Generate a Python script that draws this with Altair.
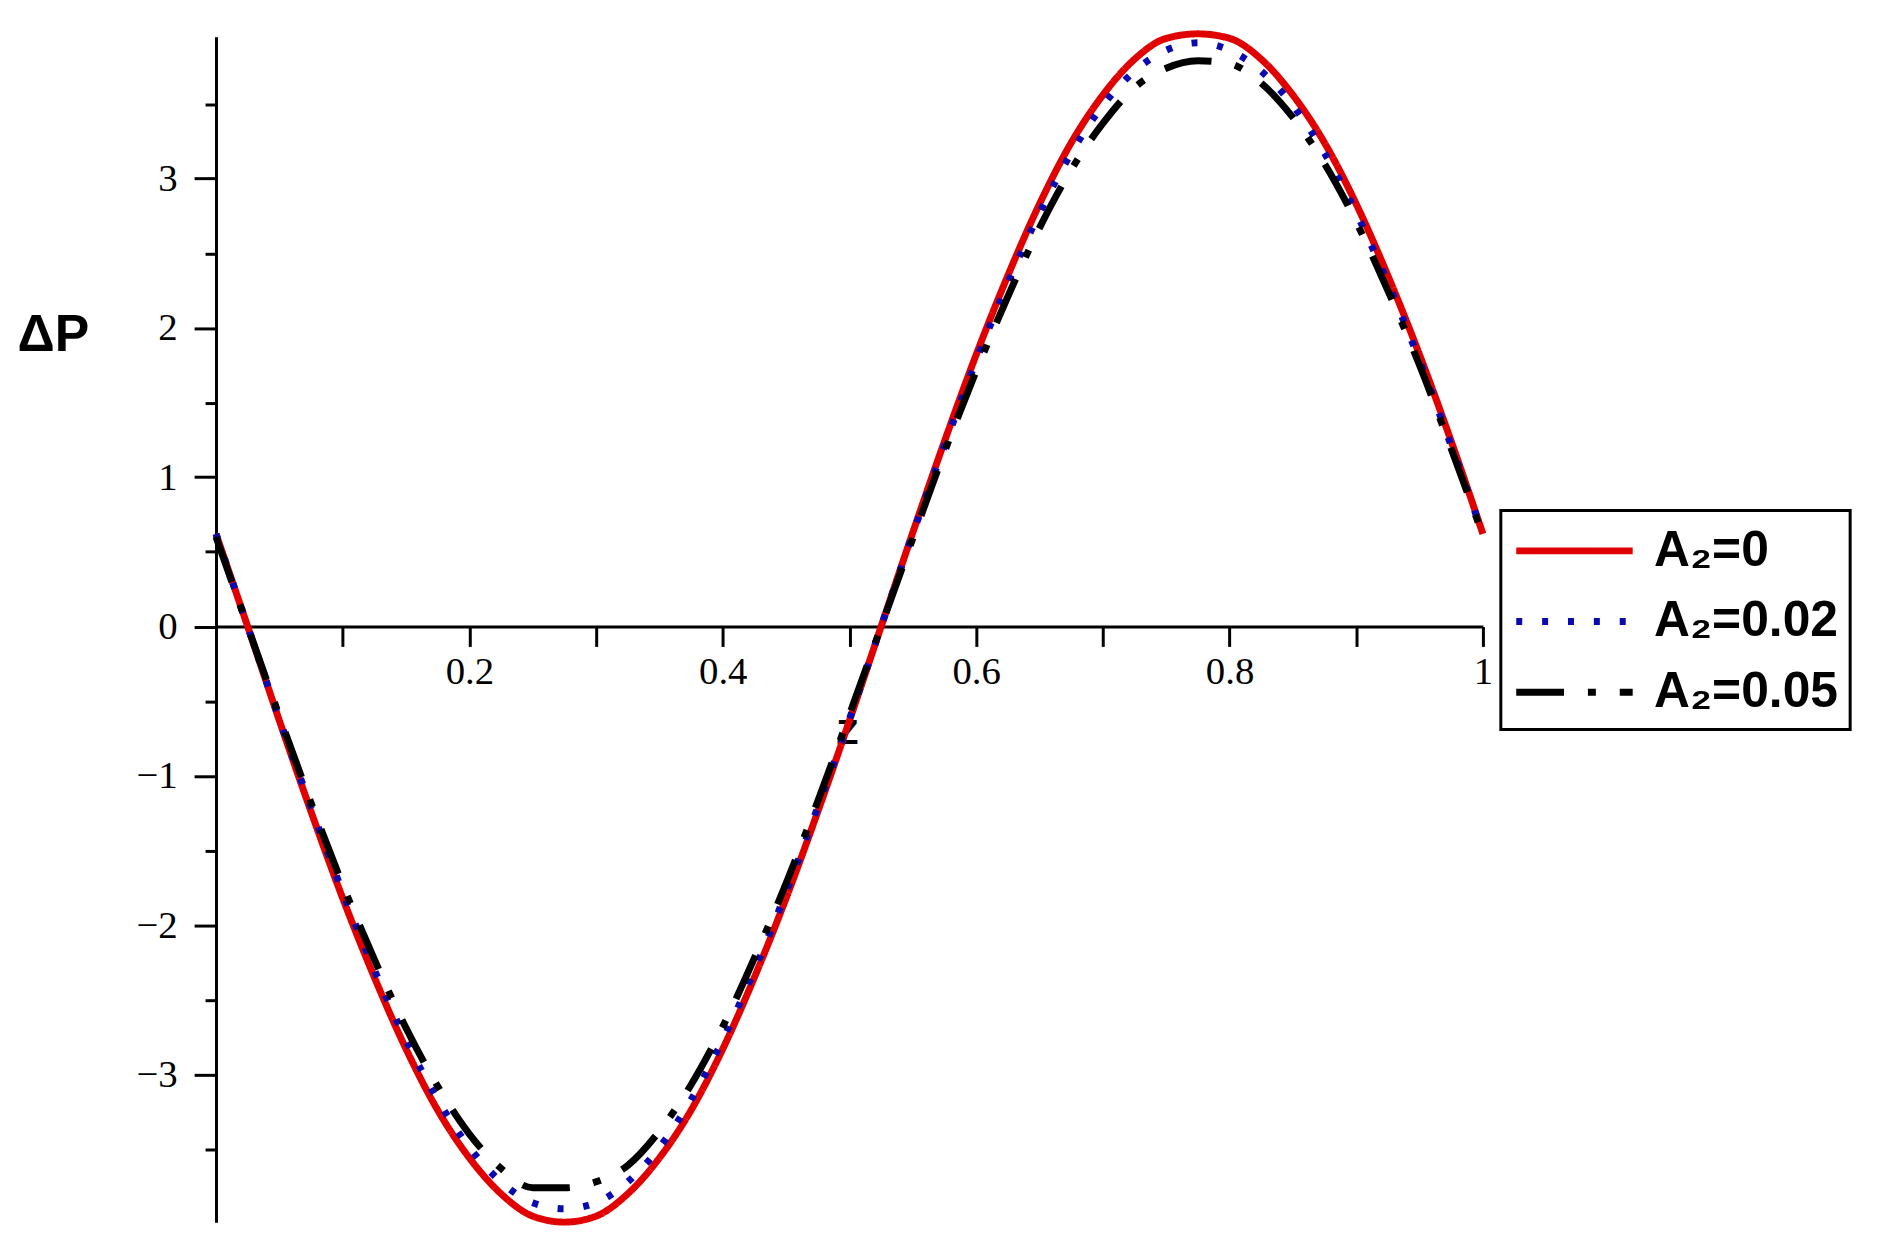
import pandas as pd
import altair as alt

# values
z = [0.0, 0.025, 0.05, 0.075, 0.1, 0.125, 0.15, 0.175, 0.2, 0.225,
     0.25, 0.275, 0.3, 0.325, 0.35, 0.375, 0.4, 0.425, 0.45, 0.475,
     0.5, 0.525, 0.55, 0.575, 0.6, 0.625, 0.65, 0.675, 0.7, 0.725,
     0.75, 0.775, 0.8, 0.825, 0.85, 0.875, 0.9, 0.925, 0.95, 0.975, 1.0]

dp_a0 = [0.62, 0.00, -0.63, -1.24, -1.82, -2.35, -2.83, -3.24, -3.56, -3.80,
         -3.95, -3.99, -3.95, -3.80, -3.56, -3.24, -2.83, -2.35, -1.82, -1.24,
         -0.63, 0.00, 0.63, 1.24, 1.82, 2.35, 2.83, 3.24, 3.56, 3.80,
         3.94, 3.97, 3.94, 3.80, 3.56, 3.24, 2.83, 2.35, 1.82, 1.24, 0.62]

dp_a002 = [0.62, 0.00, -0.62, -1.21, -1.78, -2.30, -2.77, -3.17, -3.49, -3.72,
           -3.86, -3.90, -3.86, -3.72, -3.49, -3.17, -2.77, -2.30, -1.78, -1.21,
           -0.62, 0.00, 0.62, 1.21, 1.78, 2.30, 2.77, 3.17, 3.49, 3.72,
           3.86, 3.91, 3.86, 3.72, 3.49, 3.17, 2.77, 2.30, 1.78, 1.21, 0.62]

dp_a005 = [0.60, 0.00, -0.60, -1.18, -1.73, -2.23, -2.69, -3.08, -3.40, -3.63,
           -3.76, -3.76, -3.72, -3.61, -3.38, -3.07, -2.68, -2.22, -1.72, -1.17,
           -0.59, 0.00, 0.59, 1.17, 1.71, 2.21, 2.67, 3.06, 3.37, 3.61,
           3.74, 3.79, 3.77, 3.64, 3.41, 3.10, 2.71, 2.25, 1.75, 1.19, 0.61]

series = ["A₂=0", "A₂=0.02", "A₂=0.05"]
line_colors = ["#e00000", "#0a0ab0", "#000000"]
line_dashes = [[1, 0], [6, 20], [48, 24, 8, 24]]

x_ticks = [0.1, 0.2, 0.3, 0.4, 0.5, 0.6, 0.7, 0.8, 0.9, 1.0]
y_ticks = [-3.5, -3, -2.5, -2, -1.5, -1, -0.5, 0, 0.5, 1, 1.5, 2, 2.5, 3, 3.5]
y_domain = [-3.99, 3.95]

rows = []
for name, vals in zip(series, [dp_a0, dp_a002, dp_a005]):
    for zi, v in zip(z, vals):
        rows.append({"z": zi, "dp": v, "series": name})
df = pd.DataFrame(rows)

W, H = 1273, 1191
# move the x axis up so it crosses at dp = 0
x_offset = -H * (0 - y_domain[0]) / (y_domain[1] - y_domain[0])

chart = (
    alt.Chart(df)
    .mark_line(strokeWidth=7, interpolate="monotone", strokeCap="butt")
    .encode(
        x=alt.X(
            "z:Q",
            scale=alt.Scale(domain=[0, 1], nice=False, zero=False),
            axis=alt.Axis(
                values=x_ticks,
                offset=x_offset,
                grid=False,
                domainColor="black",
                domainWidth=3,
                tickColor="black",
                tickWidth=3,
                tickSize=20,
                labelFont="Liberation Serif",
                labelFontSize=39,
                labelColor="black",
                labelPadding=6,
                labelFlush=False,
                labelOverlap=False,
                labelExpr="round(datum.value * 10) % 2 === 0 ? format(datum.value, '~g') : ''",
                title="Z",
                titleFont="Liberation Sans",
                titleFontWeight="bold",
                titleFontSize=36,
                titleColor="black",
                titleAngle=0,
                titleX=634,
                titleY=107,
                titleAlign="center",
                titleBaseline="middle",
            ),
        ),
        y=alt.Y(
            "dp:Q",
            scale=alt.Scale(domain=y_domain, nice=False, zero=False),
            axis=alt.Axis(
                values=y_ticks,
                grid=False,
                domainColor="black",
                domainWidth=3,
                tickColor="black",
                tickWidth=3,
                tickSize={"condition": {"test": "datum.value % 1 === 0", "value": 22}, "value": 11},
                labelFont="Liberation Serif",
                labelFontSize=39,
                labelColor="black",
                labelPadding=17,
                labelFlush=False,
                labelOverlap=False,
                labelExpr="datum.value % 1 === 0 ? format(datum.value, 'd') : ''",
                title="ΔP",
                titleFont="Liberation Sans",
                titleFontWeight="bold",
                titleFontSize=52,
                titleColor="black",
                titleAngle=0,
                titleX=-200,
                titleY=299,
                titleAlign="left",
                titleBaseline="middle",
            ),
        ),
        color=alt.Color(
            "series:N",
            scale=alt.Scale(domain=series, range=line_colors),
            legend=alt.Legend(
                title=None,
                orient="none",
                legendX=1291,
                legendY=476,
                fillColor="white",
                strokeColor="black",
                padding=12,
                rowPadding=17,
                symbolType="M-1,0H3.68",
                symbolSize=2500,
                symbolStrokeWidth=7,
                labelFont="Liberation Sans",
                labelFontWeight="bold",
                labelFontSize=50,
                labelLimit=500,
                labelColor="black",
                labelOffset=85,
            ),
        ),
        strokeDash=alt.StrokeDash(
            "series:N",
            scale=alt.Scale(domain=series, range=line_dashes),
            legend=alt.Legend(title=None),
        ),
        order=alt.Order("z:Q"),
    )
    .properties(
        width=W,
        height=H,
        autosize=alt.AutoSizeParams(type="none"),
        padding={"left": 209, "top": 26, "right": 400, "bottom": 20},
    )
    .configure_view(stroke=None)
    .configure_legend(strokeWidth=3)
)

chart.save("out.html", embed_options={"renderer": "svg", "actions": False})
